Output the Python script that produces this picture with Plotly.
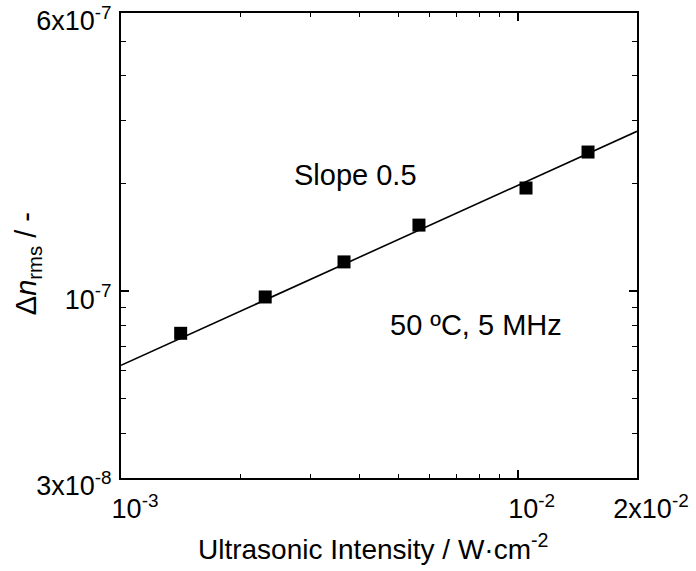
import plotly.graph_objects as go

# Data
intensity = [1.414e-3, 2.31e-3, 3.65e-3, 5.64e-3, 1.05e-2, 1.505e-2]
dn_rms = [7.62e-8, 9.63e-8, 1.207e-7, 1.53e-7, 1.943e-7, 2.45e-7]

fit_x = [1e-3, 2e-2]
fit_y = [6.2e-8, 2.8e-7]

x_tickvals = [1e-3, 1e-2, 2e-2]
x_ticktext = ["10<sup>-3</sup>", "10<sup>-2</sup>", "2x10<sup>-2</sup>"]
x_minor = [2e-3, 3e-3, 4e-3, 5e-3, 6e-3, 7e-3, 8e-3, 9e-3]

y_tickvals = [3e-8, 1e-7, 6e-7]
y_ticktext = ["3x10<sup>-8</sup>", "10<sup>-7</sup>", "6x10<sup>-7</sup>"]
y_minor = [4e-8, 5e-8, 6e-8, 7e-8, 8e-8, 9e-8, 2e-7, 3e-7, 4e-7, 5e-7]

FONT = "Liberation Sans, Arial, Helvetica, sans-serif"

fig = go.Figure()
fig.add_trace(go.Scatter(x=fit_x, y=fit_y, mode="lines",
                         line=dict(color="black", width=1.6), showlegend=False))
fig.add_trace(go.Scatter(x=intensity, y=dn_rms, mode="markers",
                         marker=dict(symbol="square", size=13, color="black"),
                         showlegend=False))

axis_common = dict(
    type="log", showline=True, linecolor="black", linewidth=2, mirror="ticks",
    ticks="inside", ticklen=8, tickwidth=1.5, tickcolor="black",
    showgrid=False, zeroline=False, ticklabeloverflow="allow",
    tickfont=dict(family=FONT, size=27, color="black"),
)

fig.update_xaxes(**axis_common, range=[-3, -1.69897],
                 tickmode="array", tickvals=x_tickvals, ticktext=x_ticktext,
                 ticklabelshift=14, ticklabelstandoff=6,
                 minor=dict(tickmode="array", tickvals=x_minor, ticks="inside",
                            ticklen=4, tickwidth=1.2, tickcolor="black"))
fig.update_yaxes(**axis_common, range=[-7.52288, -6.22185],
                 tickmode="array", tickvals=y_tickvals, ticktext=y_ticktext,
                 ticklabelstandoff=2, ticklabelshift=8,
                 minor=dict(tickmode="array", tickvals=y_minor, ticks="inside",
                            ticklen=5, tickwidth=1.2, tickcolor="black"))

fig.add_annotation(text="Ultrasonic Intensity / W·cm<sup>-2</sup>",
                   xref="paper", yref="paper", x=0.488, y=-0.148,
                   xanchor="center", yanchor="middle", showarrow=False,
                   font=dict(family=FONT, size=28, color="black"))
fig.add_annotation(text="Δ<i>n</i><sub>rms</sub> / -",
                   xref="paper", yref="paper", x=-0.180, y=0.46,
                   xanchor="center", yanchor="middle", showarrow=False,
                   textangle=-90,
                   font=dict(family=FONT, size=29, color="black"))
fig.add_annotation(text="Slope 0.5", xref="paper", yref="paper",
                   x=(355 - 121) / 516, y=(478 - 175) / 465,
                   xanchor="center", yanchor="middle", showarrow=False,
                   font=dict(family=FONT, size=29, color="black"))
fig.add_annotation(text="50 ºC, 5 MHz", xref="paper", yref="paper",
                   x=(476 - 121) / 516, y=(478 - 325) / 465,
                   xanchor="center", yanchor="middle", showarrow=False,
                   font=dict(family=FONT, size=29, color="black"))

fig.update_layout(
    width=696, height=571,
    margin=dict(l=121, r=59, t=13, b=93, autoexpand=False),
    paper_bgcolor="white", plot_bgcolor="white",
    font=dict(family=FONT, color="black"),
)

fig.write_html("out.html")
